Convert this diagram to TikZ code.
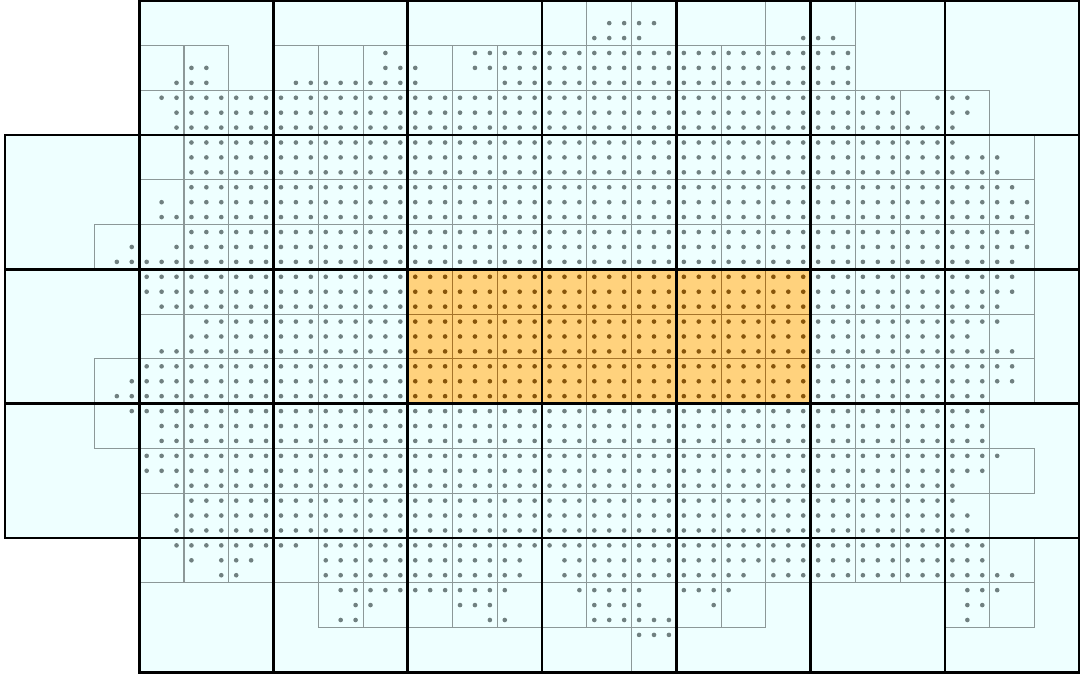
\documentclass[tikz,border=0pt]{standalone}
\usepackage{xcolor}
\definecolor{cellfill}{RGB}{238,255,255}
\definecolor{hotfill}{RGB}{255,210,125}
\definecolor{dotgray}{RGB}{112,128,128}
\definecolor{dothot}{RGB}{135,85,10}
\definecolor{linegray}{RGB}{140,152,152}
\definecolor{linehot}{RGB}{165,115,40}
\usepackage{tikz}
\tikzset{
  bigcell/.style={draw=black,line width=2pt},
  midcell/.style={draw=linegray,line width=0.8pt},
  midhot/.style={midcell,draw=linehot},
  pt/.style={fill=dotgray},
  pthot/.style={fill=dothot},
}

\begin{document}
\begin{tikzpicture}[x=0.4cm,y=0.4cm]
\useasboundingbox (-0.33,0.05) rectangle (72.05,-45.18);
% coarse cells
\foreach \L in {1,...,7}{\foreach \R in {0,...,4}{
  \fill[cellfill] (9*\L,-9*\R) rectangle ++(9,-9);}}
\foreach \R in {1,2,3}{\fill[cellfill] (0,-9*\R) rectangle ++(9,-9);}
\fill[hotfill] (27,-18) rectangle (54,-27);
% points, row by row
\foreach \ry/\spans in {1/{40/43},2/{39/42,53/55},3/{25/25,31/56},
  4/{12/13,25/27,31/56},5/{11/13,19/27,33/56},6/{10/59,62/64},
  7/{11/60,63/64},8/{11/63},9/{12/63},10/{12/66},11/{12/66},12/{12/67},
  13/{10/10,12/68},14/{10/68},15/{12/68},16/{8/8,11/68},17/{7/67},
  18/{9/67},19/{9/67},20/{10/66},21/{13/66},22/{12/64},23/{10/67},
  24/{9/67},25/{8/67},26/{7/65},27/{8/65},28/{10/65},29/{10/65},
  30/{9/66},31/{9/65},32/{11/63},33/{12/63},34/{11/64},35/{11/64},
  36/{11/19,21/65},37/{12/12,14/16,21/34,37/65},
  38/{14/15,21/34,37/49,51/67},39/{22/33,38/42,45/48,64/66},
  40/{23/24,30/32,39/42,47/47,64/65},41/{22/23,32/33,39/44,64/64},
  42/{42/44}}{
  \foreach \a/\b in \spans{
    \foreach \cx in {\a,...,\b}{
      \def\ptstyle{pt}
      \ifnum\cx>26 \ifnum\cx<54 \ifnum\ry>17 \ifnum\ry<27 \def\ptstyle{pthot}\fi\fi\fi\fi
      \fill[\ptstyle] (\cx+0.5,-\ry-0.5) circle (0.062cm);
      \pgfmathtruncatemacro\mx{div(\cx,3)}
      \pgfmathtruncatemacro\my{div(\ry,3)}
      \expandafter\gdef\csname mid-\mx-\my\endcsname{}
    }
  }
}
% middle cells that hold points
\foreach \mx in {0,...,23}{\foreach \my in {0,...,14}{
  \ifcsname mid-\mx-\my\endcsname
    \def\midstyle{midcell}
    \ifnum\mx>8 \ifnum\mx<18 \ifnum\my>5 \ifnum\my<9 \def\midstyle{midhot}\fi\fi\fi\fi
    \draw[\midstyle] (3*\mx,-3*\my) rectangle ++(3,-3);
  \fi}}
% coarse borders
\foreach \L in {1,...,7}{\foreach \R in {0,...,4}{
  \draw[bigcell] (9*\L,-9*\R) rectangle ++(9,-9);}}
\foreach \R in {1,2,3}{\draw[bigcell] (0,-9*\R) rectangle ++(9,-9);}
\end{tikzpicture}
\end{document}
